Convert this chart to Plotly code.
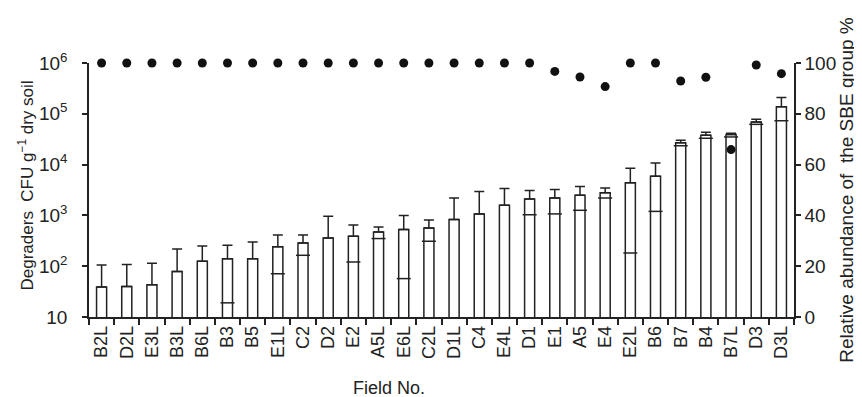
import plotly.graph_objects as go

fields = ["B2L","D2L","E3L","B3L","B6L","B3","B5","E1L","C2","D2","E2","A5L","E6L","C2L",
          "D1L","C4","E4L","D1","E1","A5","E4","E2L","B6","B7","B4","B7L","D3","D3L"]
degraders = [39,40,43,79,125,140,140,242,286,360,390,470,530,565,
             830,1070,1580,2100,2200,2500,2800,4370,5900,27000,38000,39000,69000,138000]
upper = [105,108,114,218,250,258,300,410,410,960,650,590,1000,810,
         2200,2950,3400,3100,3250,3700,3450,8500,10700,30000,43500,41500,78000,210000]
lower = [None,None,None,None,None,19,None,71,164,None,121,350,57,310,
         None,None,None,1030,1070,1260,2200,182,1200,23500,33000,35000,62000,73000]
sbe_pct = [100,100,100,100,100,100,100,100,100,100,100,100,100,100,
           100,100,100,100,96.7,94.5,90.7,100,100,92.9,94.4,65.9,99.2,95.8]

ytick_vals = [10, 100, 1000, 10000, 100000, 1000000]
ytick_text = ["10", "10<sup>2</sup>", "10<sup>3</sup>", "10<sup>4</sup>", "10<sup>5</sup>", "10<sup>6</sup>"]
y2tick_vals = [0, 20, 40, 60, 80, 100]

INK = "#222222"
FONT = "Liberation Sans"

err_plus = [u - m for u, m in zip(upper, degraders)]

fig = go.Figure()
fig.add_trace(go.Bar(
    x=fields, y=degraders, width=0.4,
    marker=dict(color="white", line=dict(color=INK, width=1.5)),
    error_y=dict(type="data", symmetric=False, array=err_plus,
                 arrayminus=[0]*len(fields), color=INK, thickness=1.5, width=5),
    showlegend=False,
))
lx = [f for f, l in zip(fields, lower) if l is not None]
ly = [l for l in lower if l is not None]
fig.add_trace(go.Scatter(
    x=lx, y=ly, mode="markers",
    marker=dict(symbol="line-ew", size=10, line=dict(color=INK, width=1.5)),
    showlegend=False, cliponaxis=False,
))
fig.add_trace(go.Scatter(
    x=fields, y=sbe_pct, yaxis="y2", mode="markers",
    marker=dict(size=9, color="#111111"),
    showlegend=False, cliponaxis=False,
))

NB = "\u00a0"
fig.update_layout(
    width=862, height=397,
    margin=dict(l=81, r=76, t=55, b=88),
    plot_bgcolor="white", paper_bgcolor="white",
    font=dict(family=FONT, size=19, color=INK),
    xaxis=dict(type="category", showgrid=False, showline=True, linecolor=INK, linewidth=1.5,
               ticks="outside", ticklen=6, tickcolor=INK, tickwidth=1.5,
               tickson="boundaries", tickangle=-90,
               tickfont=dict(family=FONT, size=18, color=INK),
               range=[-0.5, len(fields) - 0.5]),
    yaxis=dict(type="log", range=[1, 6], showgrid=False, showline=True, linecolor=INK, linewidth=1.5,
               ticks="outside", ticklen=5, tickcolor=INK, tickwidth=1.5,
               tickvals=ytick_vals, ticktext=ytick_text, zeroline=False, ticklabelstandoff=11,
               tickfont=dict(family=FONT, size=19, color=INK)),
    yaxis2=dict(overlaying="y", side="right", range=[0, 100], showgrid=False, showline=True,
                linecolor=INK, linewidth=1.5, ticks="outside", ticklen=5, tickcolor=INK,
                tickwidth=1.5, tickvals=y2tick_vals, zeroline=False,
                tickfont=dict(family=FONT, size=19, color=INK),
                title=dict(text="Relative abundance of  the SBE group %" + NB * 6, standoff=2,
                           font=dict(family=FONT, size=19, color=INK))),
    annotations=[
        dict(text="Degraders  CFU g<sup>−1</sup> dry soil", xref="paper", yref="paper",
             x=-0.09, y=0.516, xanchor="center", yanchor="middle", textangle=-90,
             showarrow=False, font=dict(family=FONT, size=17, color=INK)),
        dict(text="Field No.", xref="paper", yref="paper",
             x=0.425, y=-0.28, xanchor="center", yanchor="middle",
             showarrow=False, font=dict(family=FONT, size=18, color=INK)),
    ],
)

fig.write_html("out.html")
